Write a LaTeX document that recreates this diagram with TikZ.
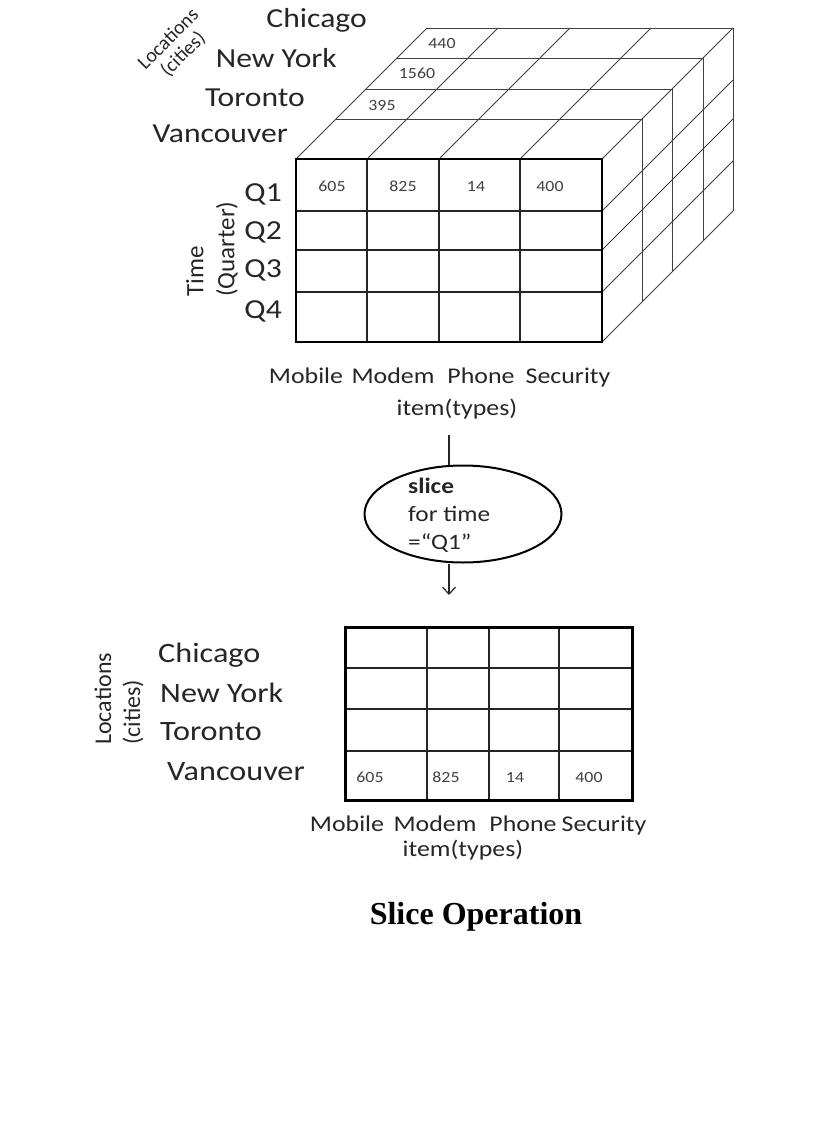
\documentclass[tikz,border=0pt]{standalone}
\usepackage{fontspec}
\setmainfont[Numbers=Lining]{Carlito}
\newfontfamily\captionfont{Liberation Serif}
\usetikzlibrary{arrows.meta, shapes.geometric}
\newcommand{\wide}[1]{\scalebox{1.15}[1]{#1}}

\begin{document}
\begin{tikzpicture}[x=1pt, y=-1pt,
    citylbl/.style={inner sep=0pt, text=black!85, font=\fontsize{27.5}{33}\selectfont},
    axislbl/.style={inner sep=0pt, text=black!85, font=\fontsize{22.5}{27}\selectfont},
    sidelbl/.style={inner sep=0pt, text=black!85, rotate=90, align=left, anchor=west},
    val/.style={inner sep=0pt, anchor=base, text=black!75, font=\fontsize{15.5}{18}\selectfont},
    thingrid/.style={black!75, line width=0.9pt},
    innergrid/.style={black!85, line width=1.2pt},
    outergrid/.style={black, line width=2.6pt},
    sliceop/.style={ellipse, draw, line width=2pt, minimum width=197pt, minimum height=97pt, inner sep=0pt},
    conn/.style={black!85, line width=1.2pt}
  ]
  \useasboundingbox[fill=white] (0,0) rectangle (833,1139);

  % cube, back layers
  \foreach \d in {40,70,101,131}
    \draw[thingrid] (296+\d,159-\d) -- (602+\d,159-\d) -- (602+\d,342-\d);
  \foreach \x in {296,367,439,520,602}
    \draw[thingrid] (\x,159) -- ++(131,-131);
  \foreach \y in {211,250,292,342}
    \draw[thingrid] (602,\y) -- ++(131,-131);

  % cube, front face
  \foreach \x in {367,439,520}
    \draw[innergrid] (\x,159) -- (\x,342);
  \foreach \y in {211,250,292}
    \draw[innergrid] (296,\y) -- (602,\y);
  \draw[outergrid] (296,159) rectangle (602,342);

  \node[val] (v440) at (442,49) {\wide{440}};
  \node[val] (v1560) at (417,79) {\wide{1560}};
  \node[val] (v395) at (382,111) {\wide{395}};
  \node[val] (q1mob) at (332,192) {\wide{605}};
  \node[val] (q1mod) at (403,192) {\wide{825}};
  \node[val] (q1pho) at (476,192) {\wide{14}};
  \node[val] (q1sec) at (550,192) {\wide{400}};

  % cube labels
  \node[inner sep=0pt, text=black!85, font=\fontsize{20}{21}\selectfont, rotate=45, align=center] (locTop) at (176,47) {Locations\\(cities)};
  \node[citylbl, anchor=base east] (chiTop) at (367,28) {\wide{Chicago}};
  \node[citylbl, anchor=base east] (nyTop) at (337,68) {\wide{New York}};
  \node[citylbl, anchor=base east] (torTop) at (305,107) {\wide{Toronto}};
  \node[citylbl, anchor=base east] (vanTop) at (288,143) {\wide{Vancouver}};
  \node[sidelbl, font=\fontsize{25}{31}\selectfont] (timeLbl) at (212,297) {Time\\(Quarter)};
  \foreach \q/\y in {1/202,2/240,3/278,4/318}
    \node[citylbl, anchor=base east] (q\q) at (282,\y) {\wide{Q\q}};
  \foreach \w/\x in {Mobile/306,Modem/393,Phone/481,Security/568}
    \node[axislbl, anchor=base] (top\w) at (\x,383) {\wide{\w}};
  \node[axislbl, anchor=base] (typesTop) at (457,415) {\wide{item(types)}};

  % slice step
  \node[sliceop] (slice) at (463,514) {};
  \node[inner sep=0pt, text=black!85, font=\fontsize{22}{28}\selectfont, align=left, anchor=west] (sliceTxt) at (408,515) {\wide{\textbf{slice}}\\\wide{for time}\\\wide{=“Q1”}};
  \coordinate (stemTop) at (449,435);
  \coordinate (arrowTip) at (449,595);
  \draw[conn] (stemTop) -- (stemTop |- slice.north);
  \draw[conn, -{Straight Barb[length=7pt, width=13pt]}] (arrowTip |- slice.south) -- (arrowTip);

  % sliced table
  \foreach \x in {427,489,559}
    \draw[innergrid] (\x,627) -- (\x,800);
  \foreach \y in {668,709,751}
    \draw[innergrid] (345,\y) -- (632,\y);
  \draw[outergrid, line width=3pt] (345,627) rectangle (632,800);

  \node[val] (vanMob) at (370,782) {\wide{605}};
  \node[val] (vanMod) at (446,782) {\wide{825}};
  \node[val] (vanPho) at (515,782) {\wide{14}};
  \node[val] (vanSec) at (589,782) {\wide{400}};

  \node[sidelbl, font=\fontsize{24}{29}\selectfont] (locBot) at (119,745) {Locations\\(cities)};
  \node[citylbl, anchor=base west, font=\fontsize{28}{33}\selectfont] (chiBot) at (158,662) {\wide{Chicago}};
  \node[citylbl, anchor=base west, font=\fontsize{28}{33}\selectfont] (nyBot) at (160,702) {\wide{New York}};
  \node[citylbl, anchor=base west, font=\fontsize{28}{33}\selectfont] (torBot) at (160,740) {\wide{Toronto}};
  \node[citylbl, anchor=base west, font=\fontsize{28}{33}\selectfont] (vanBot) at (167,780) {\wide{Vancouver}};
  \foreach \w/\x in {Mobile/347,Modem/435,Phone/523,Security/604}
    \node[axislbl, anchor=base] (bot\w) at (\x,831) {\wide{\w}};
  \node[axislbl, anchor=base] (typesBot) at (463,856) {\wide{item(types)}};

  \node[inner sep=0pt, anchor=base, font={\captionfont\bfseries\fontsize{32}{38}\selectfont}] (caption) at (476,924) {Slice Operation};
\end{tikzpicture}
\end{document}
